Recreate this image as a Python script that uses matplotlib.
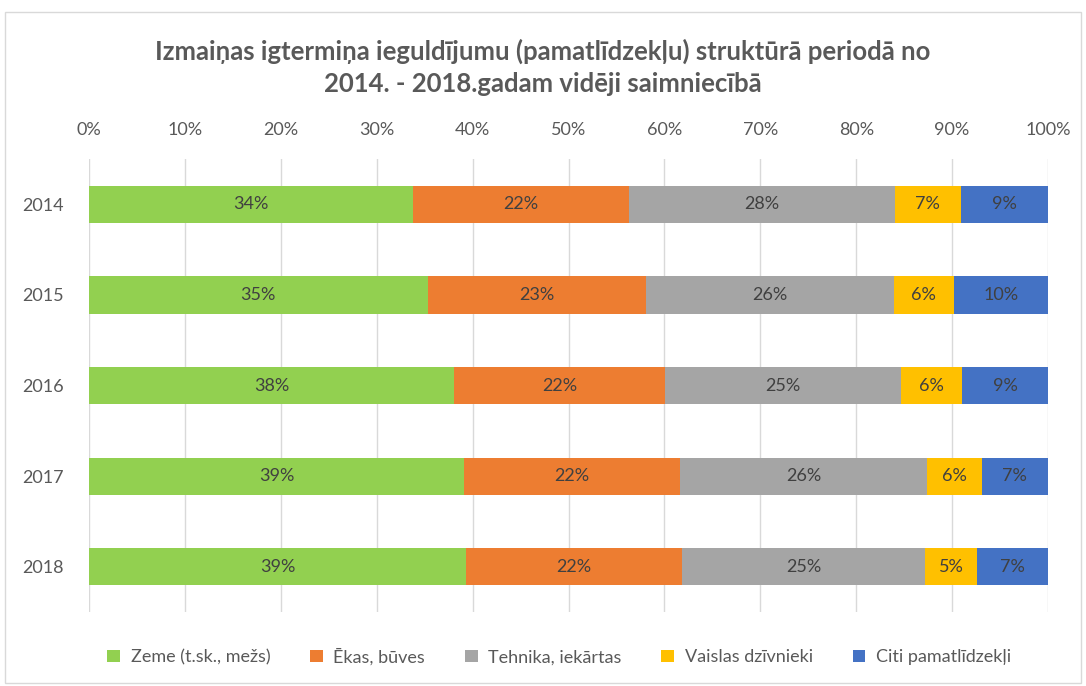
import matplotlib
matplotlib.use('Agg')
import matplotlib.pyplot as plt
from matplotlib.patches import Rectangle
import numpy as np

years = ['2014', '2015', '2016', '2017', '2018']
series = ['Zeme (t.sk., mežs)', 'Ēkas, būves', 'Tehnika, iekārtas',
          'Vaislas dzīvnieki', 'Citi pamatlīdzekļi']
zeme = [33.8, 35.3, 38.1, 39.1, 39.3]
ekas = [22.5, 22.8, 22.0, 22.5, 22.5]
tehnika = [27.7, 25.8, 24.6, 25.8, 25.4]
vaislas = [6.9, 6.3, 6.3, 5.7, 5.4]
citi = [9.1, 9.8, 9.1, 6.9, 7.4]
colors = ['#92D050', '#ED7D31', '#A5A5A5', '#FFC000', '#4472C4']

plt.rcParams['font.family'] = ['Lato', 'DejaVu Sans']
txt = '#595959'

fig = plt.figure(figsize=(10.86, 6.86), dpi=100)
fig.patches.append(Rectangle((0.005, 0.005), 0.99, 0.978, transform=fig.transFigure,
                             fill=False, ec='#D9D9D9', lw=1))
ax = fig.add_axes([0.082, 0.108, 0.883, 0.66])

y = np.arange(len(years))
left = np.zeros(len(years))
for vals, name, c in zip([zeme, ekas, tehnika, vaislas, citi], series, colors):
    vals = np.array(vals)
    ax.barh(y, vals, left=left, height=0.41, color=c, label=name, zorder=2)
    for yi, l, v in zip(y, left, vals):
        ax.text(l + v / 2, yi, '%d%%' % round(v), ha='center', va='center',
                fontsize=13, color='#404040', zorder=3)
    left += vals

ax.set_xlim(0, 100)
ax.set_ylim(len(years) - 0.5, -0.5)
ax.set_xticks(np.arange(0, 101, 10))
ax.set_xticklabels(['%d%%' % t for t in range(0, 101, 10)])
ax.set_yticks(y)
ax.set_yticklabels(years)
ax.xaxis.tick_top()
ax.tick_params(axis='both', length=0, labelsize=13, colors=txt)
ax.tick_params(axis='x', pad=15)
ax.tick_params(axis='y', pad=18)
ax.grid(axis='x', color='#D9D9D9', lw=1, zorder=0)
for s in ax.spines.values():
    s.set_visible(False)

fig.text(0.5, 0.902, 'Izmaiņas igtermiņa ieguldījumu (pamatlīdzekļu) struktūrā periodā no\n2014. - 2018.gadam vidēji saimniecībā',
         ha='center', va='center', fontsize=18.5, fontweight='bold', color=txt,
         linespacing=1.4)

fig.legend(loc='center', bbox_to_anchor=(0.515, 0.043), ncol=5, frameon=False,
           fontsize=13, labelcolor=txt, handlelength=0.7, handleheight=0.7,
           handletextpad=0.6, columnspacing=2.2)

fig.savefig('out.png', dpi=100)
